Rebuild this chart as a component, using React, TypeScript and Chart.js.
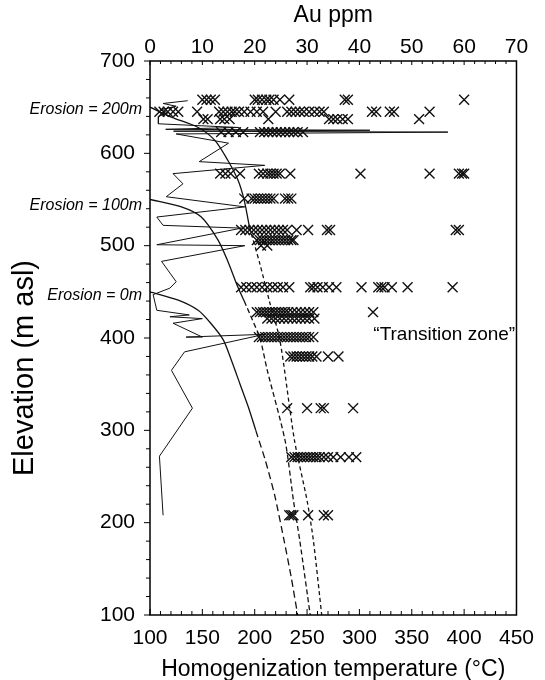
import React, { useEffect, useRef } from 'react';
import { Chart, registerables } from 'chart.js';

Chart.register(...registerables);

const FONT = '"Liberation Sans", Arial, Helvetica, sans-serif';

// ---- axes ----
const tempMin = 100;
const tempMax = 450;
const auMin = 0;
const auMax = 70;
const elevMin = 100;
const elevMax = 700;

// ---- fluid inclusion homogenization temperatures (°C), by sample elevation (m asl) ----
const th658 = [150, 154, 158, 162, 200, 203, 207, 211, 214, 218, 224, 233, 286, 289, 400];
const th645 = [109, 113, 117, 122, 127, 145, 166, 170, 174, 178, 181, 185, 190, 196, 202, 208, 220, 231, 235, 239, 243, 247, 252, 257, 262, 266, 312, 316, 329, 333, 367];
const th637 = [151, 155, 167, 171, 176, 213, 271, 275, 279, 284, 289, 357];
const th623 = [168, 175, 182, 189, 205, 209, 213, 217, 221, 225, 229, 233, 237, 241, 246];
const th578 = [167, 172, 177, 186, 204, 208, 212, 215, 218, 221, 224, 234, 301, 367, 395, 398, 400];
const th551 = [190, 197, 200, 203, 206, 209, 212, 215, 218, 229, 232, 235];
const th517 = [187, 191, 195, 199, 203, 207, 211, 215, 219, 223, 227, 231, 240, 251, 269, 272, 392, 395];
const th506 = [202, 205, 208, 211, 214, 217, 220, 223, 226, 229, 232, 235, 237];
const th500 = [206, 212];
const th455 = [187, 192, 197, 202, 207, 212, 217, 222, 227, 233, 253, 256, 260, 265, 271, 278, 302, 318, 321, 324, 331, 346, 389];
const th428 = [202, 205, 208, 211, 214, 217, 220, 223, 226, 229, 232, 236, 240, 244, 248, 252, 256, 313];
const th421 = [212, 216, 220, 224, 228, 232, 236, 240, 244, 248, 252, 257];
const th401 = [204, 207, 210, 213, 216, 219, 222, 225, 228, 231, 234, 237, 240, 243, 246, 249, 252, 256];
const th380 = [234, 237, 240, 243, 246, 249, 252, 255, 259, 270, 280];
const th324 = [231, 250, 263, 266, 294];
const th271 = [235, 238, 241, 244, 247, 250, 253, 256, 259, 262, 266, 270, 275, 282, 290, 297];
const th208 = [233, 235, 237, 251, 266, 270];

const sampleElevations = [658, 645, 637, 623, 578, 551, 517, 506, 500, 455, 428, 421, 401, 380, 324, 271, 208];
const sampleTemps = [th658, th645, th637, th623, th578, th551, th517, th506, th500, th455, th428, th421, th401, th380, th324, th271, th208];

// ---- Au grade (ppm) down the profile ----
const auPpm = [7.2, 2.5, 5.0, 1.9, 3.5, 1.6, 1.6, 16.8, 3.0, 42.0, 4.5, 56.9, 5.0, 15.0, 9.4, 21.9, 4.4, 6.3, 3.1, 18.1, 1.3, 2.5, 17.5, 1.3, 18.1, 2.2, 5.0, 3.8, 0.6, 1.3, 7.5, 3.8, 10.0, 4.4, 10.0, 6.9, 21.9, 6.6, 4.1, 8.1, 1.8, 2.5];
const auElev = [657, 654, 651, 647, 644, 640, 632, 628, 626, 625, 624, 623, 621, 611, 591, 587, 578, 567, 553, 542, 531, 522, 519, 501, 500, 483, 461, 454, 447, 430, 425, 423, 421, 416, 401, 401, 404, 385, 365, 324, 272, 208];

// ---- boiling point-depth curves (erosion 0 m, 100 m, 200 m) ----
const bp0T = [100, 127, 146, 158, 170, 178, 186, 194, 201, 210, 219, 228, 235, 241];
const bp0E = [450, 441, 430, 416, 398, 375, 350, 325, 300, 268, 230, 181, 140, 100];
const bp0Split = 300;
const bp100T = [100, 130, 149, 165, 174, 184, 190, 198, 205, 212, 229, 237, 243, 253];
const bp100E = [550, 542, 531, 506, 484, 455, 440, 419, 400, 365, 289, 224, 181, 100];
const bp100Split = 440;
const bp200T = [100, 121, 146, 162, 174, 184, 190, 195, 205, 214, 224, 238, 250, 256, 264];
const bp200E = [650, 639, 628, 614, 593, 571, 549, 520, 480, 440, 398, 289, 224, 181, 100];
const bp200Split = 520;

const erosionLabels = ['Erosion = 200m', 'Erosion = 100m', 'Erosion = 0m'];
const erosionElev = [650, 546, 448];

type P = { x: number; y: number };
const toPts = (xs: number[], ys: number[]): P[] => xs.map((x, i) => ({ x, y: ys[i] }));

function curveSets(ts: number[], es: number[], split: number, dash: number[]) {
  const pts = toPts(ts, es);
  const base = {
    type: 'scatter' as const,
    showLine: true,
    pointRadius: 0,
    borderColor: '#111',
    borderWidth: 1.3,
    tension: 0.25,
    xAxisID: 'x',
    yAxisID: 'y',
  };
  return [
    { ...base, data: pts.filter((p) => p.y >= split) },
    { ...base, data: pts.filter((p) => p.y <= split), borderDash: dash },
  ];
}

const decorPlugin = {
  id: 'decor',
  afterDraw(chart: any) {
    const { ctx, chartArea: a, scales } = chart;
    const xs = scales.x;
    const x2 = scales.x2;
    const ys = scales.y;
    ctx.save();
    ctx.strokeStyle = '#000';
    ctx.lineWidth = 1.5;
    ctx.strokeRect(a.left, a.top, a.right - a.left, a.bottom - a.top);

    ctx.lineWidth = 1;
    ctx.beginPath();
    for (let t = tempMin; t <= tempMax; t += 10) {
      const px = xs.getPixelForValue(t);
      const len = t % 50 === 0 ? 6 : 4;
      ctx.moveTo(px, a.bottom);
      ctx.lineTo(px, a.bottom - len);
    }
    for (let v = auMin; v <= auMax; v += 2) {
      const px = x2.getPixelForValue(v);
      const len = v % 10 === 0 ? 4 : 3;
      ctx.moveTo(px, a.top);
      ctx.lineTo(px, a.top + len);
    }
    for (let e = elevMin; e <= elevMax; e += 20) {
      const py = ys.getPixelForValue(e);
      const len = e % 100 === 0 ? 6 : 4;
      ctx.moveTo(a.left, py);
      ctx.lineTo(a.left - len, py);
    }
    ctx.stroke();

    ctx.fillStyle = '#000';
    // axis titles
    const cx = (a.left + a.right) / 2;
    ctx.font = `23px ${FONT}`;
    ctx.textAlign = 'center';
    ctx.textBaseline = 'alphabetic';
    ctx.fillText('Au ppm', cx, 22);
    ctx.fillText('Homogenization temperature (°C)', cx, 676);

    ctx.save();
    ctx.translate(33, 368);
    ctx.rotate(-Math.PI / 2);
    ctx.font = `29px ${FONT}`;
    ctx.textAlign = 'center';
    ctx.fillText('Elevation (m asl)', 0, 0);
    ctx.restore();

    // erosion labels
    ctx.font = `italic 16px ${FONT}`;
    ctx.textAlign = 'right';
    ctx.textBaseline = 'middle';
    erosionLabels.forEach((lab, i) => {
      ctx.fillText(lab, a.left - 8, ys.getPixelForValue(erosionElev[i]) + 2);
    });

    // transition zone
    ctx.font = `19px ${FONT}`;
    ctx.textAlign = 'center';
    ctx.textBaseline = 'alphabetic';
    ctx.fillText('\u201CTransition zone\u201D', xs.getPixelForValue(381), 340);
    ctx.restore();
  },
};

export default function App() {
  const canvasRef = useRef<HTMLCanvasElement | null>(null);

  useEffect(() => {
    if (!canvasRef.current) return;
    Chart.defaults.font.family = FONT;
    Chart.defaults.color = '#000';

    const crossPts: P[] = [];
    sampleElevations.forEach((e, i) => {
      sampleTemps[i].forEach((t) => crossPts.push({ x: t, y: e }));
    });

    const datasets: any[] = [
      {
        type: 'scatter',
        data: crossPts,
        pointStyle: 'crossRot',
        pointRadius: 7,
        pointBorderWidth: 1.4,
        borderColor: '#111',
        backgroundColor: '#111',
        xAxisID: 'x',
        yAxisID: 'y',
      },
      {
        type: 'scatter',
        data: toPts(auPpm, auElev),
        showLine: true,
        pointRadius: 0,
        borderColor: '#111',
        borderWidth: 1,
        tension: 0,
        xAxisID: 'x2',
        yAxisID: 'y',
      },
      ...curveSets(bp0T, bp0E, bp0Split, [7, 4]),
      ...curveSets(bp100T, bp100E, bp100Split, [5, 3]),
      ...curveSets(bp200T, bp200E, bp200Split, [4, 3]),
    ];

    const tickFont = { size: 21, family: FONT };
    const noGrid = { display: false, drawTicks: false, tickLength: 0 };

    const chart = new Chart(canvasRef.current, {
      type: 'scatter',
      data: { datasets },
      plugins: [decorPlugin],
      options: {
        animation: false,
        responsive: false,
        devicePixelRatio: 1,
        layout: { padding: { left: 0, right: 22, top: 0, bottom: 0 } },
        plugins: { legend: { display: false }, tooltip: { enabled: false } },
        scales: {
          x: {
            type: 'linear',
            position: 'bottom',
            min: tempMin,
            max: tempMax,
            grid: noGrid,
            border: { display: false },
            ticks: { stepSize: 50, font: tickFont, color: '#000', padding: 11, maxRotation: 0 },
            afterFit: (s: any) => {
              s.height = 65;
            },
          },
          x2: {
            type: 'linear',
            position: 'top',
            min: auMin,
            max: auMax,
            grid: noGrid,
            border: { display: false },
            ticks: { stepSize: 10, font: tickFont, color: '#000', padding: 1, maxRotation: 0 },
            afterFit: (s: any) => {
              s.height = 61;
            },
          },
          y: {
            type: 'linear',
            position: 'left',
            min: elevMin,
            max: elevMax,
            grid: noGrid,
            border: { display: false },
            ticks: { stepSize: 100, font: tickFont, color: '#000', padding: 15 },
            afterFit: (s: any) => {
              s.width = 150;
            },
          },
        },
      } as any,
    });
    return () => chart.destroy();
  }, []);

  return (
    <div style={{ position: 'fixed', left: 0, top: 0, width: 545, height: 680, background: '#fff' }}>
      <canvas ref={canvasRef} width={545} height={680} style={{ width: 545, height: 680, display: 'block' }} />
    </div>
  );
}
